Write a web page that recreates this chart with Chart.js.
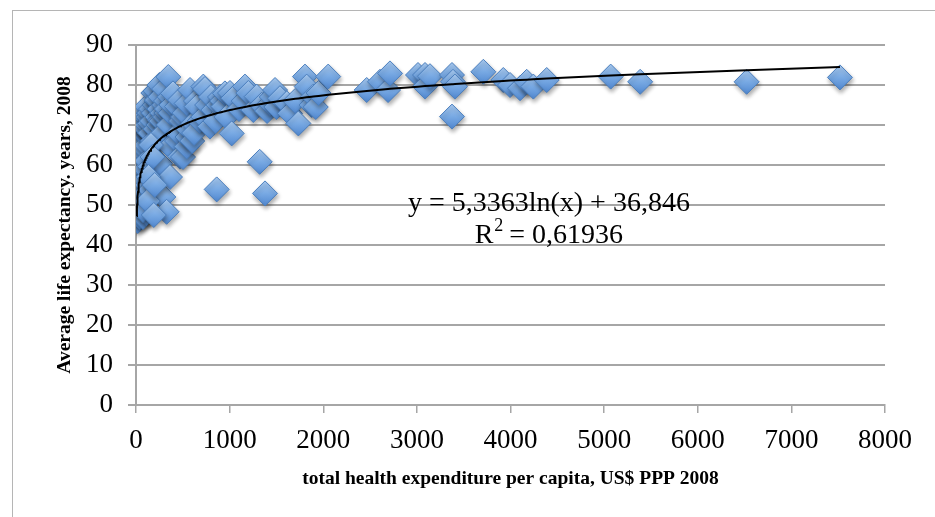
<!DOCTYPE html>
<html>
<head>
<meta charset="utf-8">
<script src="https://cdn.jsdelivr.net/npm/chart.js@4.4.1/dist/chart.umd.min.js"></script>
<style>
html,body{margin:0;padding:0;background:#fff;}
#wrap{position:relative;width:935px;height:517px;overflow:hidden;background:#fff;}
#frame{position:absolute;left:12px;top:10px;width:1000px;height:600px;border-left:1px solid #b5b5b5;border-top:1px solid #b5b5b5;}
canvas{position:absolute;left:0;top:0;}
</style>
</head>
<body>
<div id="wrap"><div id="frame"></div><canvas id="c" width="935" height="517"></canvas></div>
<script>
// ---- data ----
const healthExpenditure = [
  7,10,12,14,16,18,22,24,26,28,30,32,34,36,38,42,44,46,50,55,
  58,60,64,65,70,72,75,78,80,85,88,90,95,98,100,105,108,110,115,120,
  43,43,75,114,60,70,85,100,110,120,
  130,140,150,150,150,150,160,170,180,185,190,200,210,210,220,224,224,230,240,250,
  250,256,256,260,270,280,290,292,300,300,310,320,327,327,330,345,350,360,363,363,
  370,380,395,160,175,135,125,200,190,
  438,438,470,470,450,480,502,502,520,541,541,550,560,577,600,612,620,640,648,680,
  719,719,737,760,790,800,826,850,862,880,897,920,934,950,968,1004,
  1022,1039,1100,1150,1164,1200,1253,1289,1321,1342,1378,1400,1431,1450,1485,1500,1538,1610,1645,1700,
  1734,1805,1823,1876,1894,1920,1950,2053,
  2464,2606,2692,2713,3012,3087,3087,3140,3375,3386,3407,3375,3710,3923,3995,4102,4173,4244,4387,5070,
  5385,6522,7519
];
const lifeExpectancy = [
  49,47,66,49,63,46,48,60,51,65,50,58,53,62,47,55,67,52,57,49,
  64,60,61,54,58,66,47,59,62,56,63,50,64,68,59,53,65,48,61,55,
  72,68.75,48.75,74.6,70,71,70,72,69,70,
  72,73,68,70.4,59.6,53.75,74,71,66,78,73,75,69,78.5,76,66,76.25,72,70,74,
  80,60.4,71.25,77,71,73,68,52,75,79,72,76,48.3,73,74,82,70,77,57,64.6,
  73,75,77.9,65,62,57,51,55,47.5,
  66,74.6,62.1,76.25,68,71,62,72,73,64.6,75.4,67,69,78.75,66,70.4,68,76,74.6,71,
  72,79.6,79,75,69.6,77,73.75,71,53.9,75,77,76,74.6,77.9,72,78,
  67.9,76.7,74,76,79.6,78,73.75,77.1,60.8,75,52.9,73.5,75.4,77,78.75,74.5,76.7,75.4,72.9,76,
  70.4,82.1,79.6,75,77.1,74.5,78,82.1,
  78.75,80.8,78.75,82.9,82.5,82.5,79.6,82.2,82.5,80.8,79.6,72.1,83.3,81.25,80,79.2,80.8,79.6,81.25,82.1,
  80.8,80.8,81.9
];
const xTickValues = [0,1000,2000,3000,4000,5000,6000,7000,8000];
const yTickValues = [0,10,20,30,40,50,60,70,80,90];
const trendSlope = 5.3363;
const trendIntercept = 36.846;
const equationLabel = 'y = 5,3363ln(x) + 36,846';
const rSquaredLabel = '0,61936';
const xTitle = 'total health expenditure per capita, US$ PPP 2008';
const yTitle = 'Average life expectancy. years, 2008';

// ---- build library structures ----
const points = healthExpenditure.map((x, i) => ({x: x, y: lifeExpectancy[i]}));
const trendX = Array.from(new Set(healthExpenditure)).sort((a, b) => a - b);
const trendPoints = trendX.map(x => ({x: x, y: trendSlope * Math.log(x) + trendIntercept}));

const SERIF = "'Liberation Serif', 'Times New Roman', serif";
const GRID = '#a6a6a6';

function diamondFill(ctx) {
  const chart = ctx.chart;
  const fallback = '#72a3df';
  if (!chart || !chart.scales || !chart.scales.y || !ctx.parsed) return fallback;
  const cy = chart.scales.y.getPixelForValue(ctx.parsed.y);
  if (!isFinite(cy)) return fallback;
  const g = chart.ctx.createLinearGradient(0, cy - 12, 0, cy + 12);
  g.addColorStop(0, '#a8caf1');
  g.addColorStop(0.5, '#78a9e3');
  g.addColorStop(1, '#5289d1');
  return g;
}

const shadowPlugin = {
  id: 'shadow',
  beforeDatasetDraw(chart, args) {
    if (args.index !== 1) return;
    const c = chart.ctx;
    c.save();
    c.shadowColor = 'rgba(0,0,0,0.33)';
    c.shadowBlur = 4;
    c.shadowOffsetX = 1;
    c.shadowOffsetY = 3;
  },
  afterDatasetDraw(chart, args) {
    if (args.index !== 1) return;
    chart.ctx.restore();
  }
};

const equationPlugin = {
  id: 'equation',
  afterDatasetsDraw(chart) {
    const c = chart.ctx;
    const xs = chart.scales.x, ys = chart.scales.y;
    const cx = xs.getPixelForValue(4410);
    c.save();
    c.fillStyle = '#000';
    c.textBaseline = 'middle';
    c.textAlign = 'center';
    c.font = '28px ' + SERIF;
    c.fillText(equationLabel, cx, ys.getPixelForValue(50.4));
    const y2 = ys.getPixelForValue(42.4);
    const partR = 'R', partRest = ' = ' + rSquaredLabel;
    const wR = c.measureText(partR).width;
    const wRest = c.measureText(partRest).width;
    c.font = '18px ' + SERIF;
    const wSup = c.measureText('2').width;
    const total = wR + wSup + wRest;
    const x0 = cx - total / 2;
    c.textAlign = 'left';
    c.font = '28px ' + SERIF;
    c.fillText(partR, x0, y2);
    c.font = '18px ' + SERIF;
    c.fillText('2', x0 + wR + 1, y2 - 9);
    c.font = '28px ' + SERIF;
    c.fillText(partRest, x0 + wR + wSup, y2);
    c.restore();
  }
};

new Chart(document.getElementById('c'), {
  type: 'scatter',
  data: {
    datasets: [
      {
        label: 'trend',
        data: trendPoints,
        showLine: true,
        borderColor: '#000',
        borderWidth: 2,
        pointRadius: 0,
        pointHoverRadius: 0,
        fill: false,
        tension: 0
      },
      {
        label: 'countries',
        data: points,
        pointStyle: 'rectRot',
        pointRadius: 12.5,
        pointHoverRadius: 12.5,
        borderWidth: 1,
        borderColor: '#4a7ebd',
        backgroundColor: diamondFill
      }
    ]
  },
  options: {
    responsive: false,
    animation: false,
    events: [],
    layout: {padding: {left: 53, top: 45, right: 50, bottom: 26}},
    plugins: {legend: {display: false}, tooltip: {enabled: false}},
    scales: {
      x: {
        type: 'linear',
        min: 0, max: 8000,
        afterBuildTicks: s => { s.ticks = xTickValues.map(v => ({value: v})); },
        afterFit: s => { s.height = 86; },
        grid: {drawOnChartArea: false, drawTicks: true, tickLength: 8, color: GRID, lineWidth: 1.5},
        border: {display: true, color: GRID, width: 2},
        ticks: {color: '#000', font: {family: SERIF, size: 27}, padding: 12, maxRotation: 0,
                callback: v => String(v)},
        title: {display: true, text: xTitle, color: '#000', font: {family: SERIF, size: 19.5, weight: 'bold'}, padding: 0}
      },
      y: {
        type: 'linear',
        min: 0, max: 90,
        afterBuildTicks: s => { s.ticks = yTickValues.map(v => ({value: v})); },
        afterFit: s => { s.width = 83; },
        grid: {drawOnChartArea: true, drawTicks: true, tickLength: 8, color: GRID, lineWidth: 2},
        border: {display: true, color: GRID, width: 2},
        ticks: {color: '#000', font: {family: SERIF, size: 27}, padding: 15, callback: v => String(v)},
        title: {display: true, text: yTitle, color: '#000', font: {family: SERIF, size: 19.5, weight: 'bold'}, padding: 0}
      }
    }
  },
  plugins: [shadowPlugin, equationPlugin]
});
</script>
</body>
</html>
